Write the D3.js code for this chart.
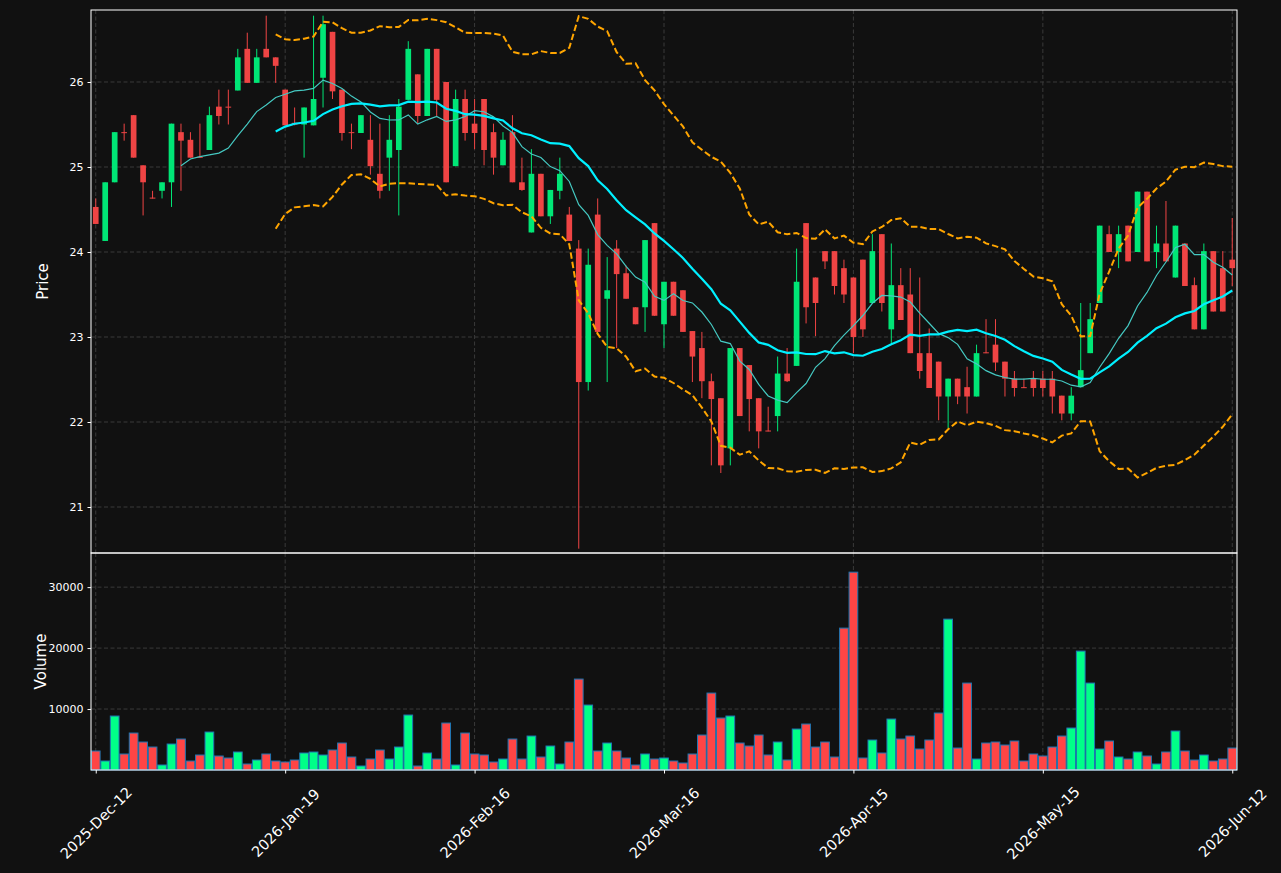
<!DOCTYPE html>
<html>
<head>
<meta charset="utf-8">
<script src="https://cdn.jsdelivr.net/npm/d3@7"></script>
<style>
  body { margin: 0; background: #111111; }
  svg { display: block; font-family: "DejaVu Sans", sans-serif; }
</style>
</head>
<body>
<svg id="chart" width="1281" height="873"></svg>
<script>
// candle data (one entry per trading bar)
var opens = [24.53,24.13,24.82,25.41,25.61,25.02,24.64,24.72,24.82,25.41,
  25.32,25.12,25.20,25.71,25.71,25.90,26.39,25.99,26.39,26.29,
  25.91,25.52,25.50,25.49,26.05,26.59,25.91,25.41,25.40,25.32,
  24.92,25.11,25.20,25.79,26.09,25.60,26.39,26.00,25.01,25.80,
  25.51,25.80,25.41,25.02,25.41,24.82,24.23,24.92,24.42,24.72,
  24.44,24.04,22.47,24.44,23.45,24.04,23.75,23.35,23.35,24.34,
  23.15,23.65,23.55,23.07,22.87,22.48,22.28,21.69,22.87,22.67,
  22.28,21.90,22.07,22.57,22.66,24.34,23.70,24.01,24.01,23.81,
  23.70,23.91,23.40,24.21,23.09,23.61,23.50,22.81,22.81,22.71,
  22.30,22.51,22.41,22.30,22.82,22.91,22.71,22.51,22.41,22.51,
  22.51,22.51,22.31,22.10,22.41,22.81,23.40,24.21,24.00,24.31,
  24.00,24.71,24.00,24.10,23.70,24.10,23.61,23.09,24.01,23.81,
  23.91];
var highs = [24.63,24.82,25.41,25.51,25.61,25.02,24.72,24.82,25.51,25.51,
  25.41,25.51,25.71,25.91,25.91,26.39,26.58,26.39,26.78,26.29,
  25.91,25.70,25.70,26.78,26.78,26.59,25.91,25.51,25.61,25.61,
  25.51,25.61,25.80,26.48,26.09,26.39,26.39,26.00,25.91,25.91,
  25.80,25.80,25.51,25.41,25.61,25.11,25.21,24.92,24.73,25.11,
  24.53,24.14,24.04,24.63,23.94,24.14,23.84,23.35,24.14,24.34,
  23.65,23.65,23.55,23.07,23.06,22.57,22.28,22.87,22.87,22.67,
  22.28,22.18,22.77,22.87,24.04,24.34,23.70,24.01,24.01,23.91,
  23.70,23.91,24.21,24.21,24.10,23.81,23.81,23.70,23.10,22.71,
  22.51,22.51,22.65,22.91,23.21,23.21,22.71,22.60,22.51,22.60,
  22.60,22.60,22.31,22.41,23.40,23.40,24.31,24.31,24.31,24.31,
  24.71,24.71,24.31,24.60,24.31,24.10,23.70,24.10,24.01,24.01,
  24.40];
var lows = [24.33,24.13,24.82,25.31,25.11,24.43,24.63,24.63,24.53,24.72,
  25.11,25.11,25.20,25.50,25.50,25.90,25.99,25.99,26.29,25.99,
  25.49,25.49,25.11,25.49,25.70,25.80,25.31,25.21,25.40,24.91,
  24.63,24.72,24.43,25.79,25.51,25.60,25.60,24.82,25.01,25.31,
  25.21,25.02,24.91,25.02,24.82,24.72,24.23,24.42,24.33,24.62,
  24.13,20.51,22.37,23.06,22.47,22.87,23.45,23.15,23.06,23.25,
  22.87,23.25,23.06,22.47,22.28,21.49,21.40,21.49,22.07,21.89,
  21.69,21.89,21.89,22.47,22.66,23.16,23.01,23.80,23.50,23.40,
  22.81,23.00,23.40,23.30,22.93,23.20,22.81,22.51,22.40,22.02,
  21.93,22.21,22.10,22.30,22.81,22.60,22.30,22.30,22.40,22.30,
  22.30,22.10,22.02,22.02,22.41,22.81,23.40,24.00,23.81,23.89,
  24.00,23.89,23.81,23.89,23.70,23.60,23.09,23.09,23.30,23.30,
  23.60];
var closes = [24.33,24.82,25.41,25.40,25.11,24.82,24.63,24.82,25.51,25.31,
  25.11,25.11,25.61,25.60,25.70,26.29,25.99,26.29,26.29,26.19,
  25.49,25.50,25.70,25.80,26.68,25.89,25.40,25.40,25.61,25.01,
  24.72,25.32,25.71,26.39,25.60,26.39,25.79,24.82,25.80,25.40,
  25.40,25.20,25.11,25.32,24.82,24.73,24.92,24.42,24.73,24.92,
  24.13,22.47,23.85,23.06,23.55,23.74,23.45,23.15,24.14,23.25,
  23.65,23.25,23.06,22.77,22.48,22.27,21.49,22.87,22.07,22.27,
  21.89,21.89,22.57,22.48,23.65,23.35,23.40,23.89,23.60,23.50,
  23.00,23.09,24.01,23.40,23.61,23.20,22.81,22.60,22.40,22.30,
  22.51,22.30,22.30,22.81,22.81,22.70,22.51,22.40,22.40,22.40,
  22.40,22.30,22.10,22.31,22.61,23.21,24.31,24.00,24.21,23.89,
  24.71,23.89,24.10,23.89,24.31,23.60,23.09,24.01,23.30,23.30,
  23.81];
var volumes = [3115,1475,8852,2623,6065,4590,3770,820,4262,5082,
  1475,2459,6229,2295,1967,2951,984,1639,2623,1475,
  1311,1639,2787,2951,2459,3278,4426,2131,656,1803,
  3278,1803,3770,9016,656,2787,1803,7704,820,6065,
  2623,2459,1311,1803,5082,1803,5573,2131,3934,984,
  4590,14917,10655,3115,4426,3115,1967,820,2623,1803,
  1967,1475,1147,2623,5737,12622,8524,8852,4426,3934,
  5737,2459,4590,1639,6721,7540,3770,4590,2131,23277,
  32456,1967,4918,2787,8360,5082,5573,3442,4918,9343,
  24752,3606,14261,1803,4426,4590,4098,4754,1475,2623,
  2295,3770,5573,6885,19506,14261,3442,4754,2131,1803,
  2951,2295,984,2951,6393,3115,1639,2459,1475,1803,
  3606];

var tickIdx = [0, 20, 40, 60, 80, 100, 120];
var tickLabels = ["2025-Dec-12", "2026-Jan-19", "2026-Feb-16", "2026-Mar-16",
  "2026-Apr-15", "2026-May-15", "2026-Jun-12"];
var priceTicks = [21, 22, 23, 24, 25, 26];
var volTicks = [10000, 20000, 30000];

var left = 91, right = 1237;
var priceTop = 10, priceBottom = 553, volBottom = 770;

var upColor = "#00e676", downColor = "#ef4444";
var volUp = "#00ff88", volDown = "#ff4545";
var gridColor = "#3a3a3a";

var candles = closes.map(function(c, i) {
  return {i: i, o: opens[i], h: highs[i], l: lows[i], c: c, v: volumes[i]};
});

// rolling mean / std of closes (moving averages + bollinger bands)
var rolling = function(n) {
  var out = [];
  for (var i = n - 1; i < closes.length; i++) {
    var win = closes.slice(i - n + 1, i + 1);
    var m = d3.mean(win);
    var sd = Math.sqrt(d3.mean(win, function(d) { return (d - m) * (d - m); }));
    out.push({i: i, mean: m, up: m + 2 * sd, lo: m - 2 * sd});
  }
  return out;
};
var sma10 = rolling(10);
var bb20 = rolling(20);

var svg = d3.select("#chart");

var x = d3.scaleLinear().domain([-0.5, closes.length - 0.5]).range([left, right]);
var yPrice = d3.scaleLinear().domain([20.459, 26.847]).range([priceBottom, priceTop]);
var yVol = d3.scaleLinear().domain([0, 35600]).range([volBottom, priceBottom]);
var step = x(1) - x(0);

svg.append("rect")
  .attr("width", 1281).attr("height", 873)
  .attr("fill", "#111111");

// grid
var drawGrid = function(yScale, ticks, top, bottom) {
  var g = svg.append("g")
    .attr("stroke", gridColor)
    .attr("stroke-width", 1)
    .attr("stroke-dasharray", "4,2.5");
  g.selectAll(".hg").data(ticks).enter().append("line")
    .attr("x1", left).attr("x2", right)
    .attr("y1", function(d) { return yScale(d); })
    .attr("y2", function(d) { return yScale(d); });
  g.selectAll(".vg").data(tickIdx).enter().append("line")
    .attr("x1", function(d) { return x(d); })
    .attr("x2", function(d) { return x(d); })
    .attr("y1", top).attr("y2", bottom);
};
drawGrid(yPrice, priceTicks, priceTop, priceBottom);
drawGrid(yVol, volTicks, priceBottom, volBottom);

// candles
var cw = step * 0.6;
var cg = svg.append("g");
cg.selectAll(".wick").data(candles).enter().append("line")
  .attr("x1", function(d) { return x(d.i); })
  .attr("x2", function(d) { return x(d.i); })
  .attr("y1", function(d) { return yPrice(d.h); })
  .attr("y2", function(d) { return yPrice(d.l); })
  .attr("stroke", function(d) { return d.c >= d.o ? upColor : downColor; })
  .attr("stroke-width", 1);
cg.selectAll(".body").data(candles).enter().append("rect")
  .attr("x", function(d) { return x(d.i) - cw / 2; })
  .attr("width", cw)
  .attr("y", function(d) { return yPrice(Math.max(d.o, d.c)); })
  .attr("height", function(d) {
    return Math.max(1, Math.abs(yPrice(d.o) - yPrice(d.c)));
  })
  .attr("fill", function(d) { return d.c >= d.o ? upColor : downColor; });

// moving averages and bands
var lineOf = function(key) {
  return d3.line()
    .x(function(d) { return x(d.i); })
    .y(function(d) { return yPrice(d[key]); });
};
svg.append("path").datum(sma10)
  .attr("d", lineOf("mean"))
  .attr("fill", "none").attr("stroke", "#45c9c2").attr("stroke-width", 1.2);
svg.append("path").datum(bb20)
  .attr("d", lineOf("mean"))
  .attr("fill", "none").attr("stroke", "#00f0ff").attr("stroke-width", 2.2);
["up", "lo"].forEach(function(k) {
  svg.append("path").datum(bb20)
    .attr("d", lineOf(k))
    .attr("fill", "none").attr("stroke", "#ffa500")
    .attr("stroke-width", 2).attr("stroke-dasharray", "6.5,3");
});

// volume bars
var bw = step * 0.92;
svg.append("g").selectAll(".vol").data(candles).enter().append("rect")
  .attr("x", function(d) { return x(d.i) - bw / 2; })
  .attr("width", bw)
  .attr("y", function(d) { return yVol(d.v); })
  .attr("height", function(d) { return volBottom - yVol(d.v); })
  .attr("fill", function(d) { return d.c >= d.o ? volUp : volDown; })
  .attr("stroke", "#1f77b4")
  .attr("stroke-width", 1);

// frames
svg.append("rect")
  .attr("x", left).attr("y", priceTop)
  .attr("width", right - left).attr("height", priceBottom - priceTop)
  .attr("fill", "none").attr("stroke", "#ffffff").attr("stroke-width", 1);
svg.append("rect")
  .attr("x", left).attr("y", priceBottom)
  .attr("width", right - left).attr("height", volBottom - priceBottom)
  .attr("fill", "none").attr("stroke", "#ffffff").attr("stroke-width", 1);

// axes
var styleAxis = function(size) {
  return function(g) {
    g.select(".domain").remove();
    g.selectAll(".tick line").attr("stroke", "#ffffff");
    g.selectAll(".tick text").attr("fill", "#ffffff")
      .attr("font-size", size).attr("font-family", "DejaVu Sans, sans-serif");
  };
};
svg.append("g")
  .attr("transform", "translate(" + left + ",0)")
  .call(d3.axisLeft(yPrice).tickValues(priceTicks).tickSize(3.5).tickPadding(4)
    .tickFormat(d3.format("d")))
  .call(styleAxis(11));
svg.append("g")
  .attr("transform", "translate(" + left + ",0)")
  .call(d3.axisLeft(yVol).tickValues(volTicks).tickSize(3.5).tickPadding(4)
    .tickFormat(d3.format("d")))
  .call(styleAxis(11));

var xAxisG = svg.append("g")
  .attr("transform", "translate(0," + volBottom + ")")
  .call(d3.axisBottom(x).tickValues(tickIdx).tickSize(3.5)
    .tickFormat(function(d, i) { return tickLabels[i]; }))
  .call(styleAxis(14.5));
xAxisG.selectAll(".tick text")
  .attr("text-anchor", "middle")
  .attr("dy", null)
  .attr("y", 0)
  .attr("dominant-baseline", "central")
  .attr("transform", "translate(0,53) rotate(-45)");

svg.append("text")
  .attr("transform", "translate(48," + ((priceTop + priceBottom) / 2) + ") rotate(-90)")
  .attr("text-anchor", "middle")
  .attr("fill", "#ffffff").attr("font-size", 15)
  .text("Price");
svg.append("text")
  .attr("transform", "translate(46," + ((priceBottom + volBottom) / 2) + ") rotate(-90)")
  .attr("text-anchor", "middle")
  .attr("fill", "#ffffff").attr("font-size", 15)
  .text("Volume");
</script>
</body>
</html>
